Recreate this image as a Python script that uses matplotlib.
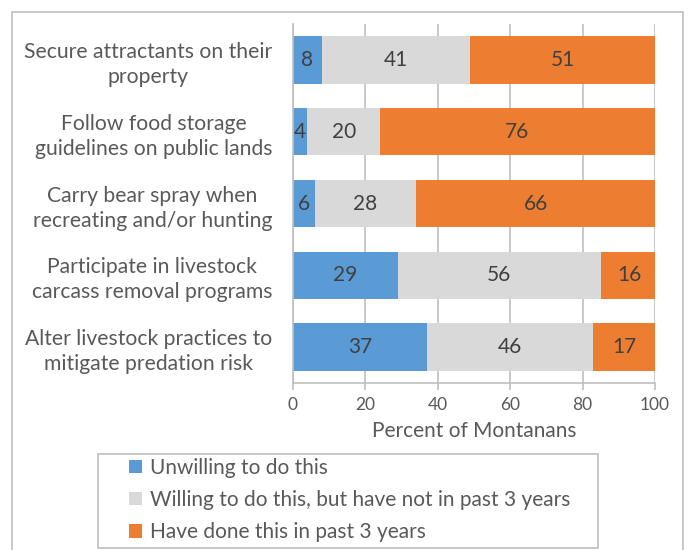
import numpy as np
import matplotlib.pyplot as plt
from matplotlib.patches import Rectangle

plt.rcParams['font.family'] = ['Lato', 'DejaVu Sans']

actions = ["Secure attractants on their\nproperty",
           "Follow food storage\nguidelines on public lands",
           "Carry bear spray when\nrecreating and/or hunting",
           "Participate in livestock\ncarcass removal programs",
           "Alter livestock practices to\nmitigate predation risk"]

unwilling = [8, 4, 6, 29, 37]
willing_not = [41, 20, 28, 56, 46]
have_done = [51, 76, 66, 16, 17]

series_names = ["Unwilling to do this",
                "Willing to do this, but have not in past 3 years",
                "Have done this in past 3 years"]
colors = ["#5B9BD5", "#D9D9D9", "#ED7D31"]

text_gray = "#595959"
grid_gray = "#BFBFBF"

fig = plt.figure(figsize=(6.88, 5.5), dpi=100)
ax = fig.add_axes([293/688, 1 - 383/550, (655 - 293)/688, (383 - 24)/550])

y = np.arange(len(actions))
left = np.zeros(len(actions))
for vals, name, col in zip([unwilling, willing_not, have_done], series_names, colors):
    bars = ax.barh(y, vals, left=left, height=0.66, color=col, label=name, zorder=2)
    for b, v in zip(bars, vals):
        ax.text(b.get_x() + b.get_width() / 2, b.get_y() + b.get_height() / 2, str(v),
                ha="center", va="center", fontsize=15, color="#404040", zorder=3)
    left += np.array(vals)

ax.set_xlim(0, 100)
ax.set_ylim(len(actions) - 0.5, -0.5)
ax.set_xticks(np.arange(0, 101, 20))
ax.set_yticks(y)
ax.set_yticklabels(actions, fontsize=15.2, color=text_gray, multialignment="center",
                   linespacing=1.32)
ax.tick_params(axis="y", length=0, pad=15)
ax.tick_params(axis="x", length=5, width=1.2, color=grid_gray, labelsize=12.5,
               labelcolor=text_gray, pad=5)
ax.xaxis.grid(True, color=grid_gray, linewidth=1.2, zorder=0)
ax.set_axisbelow(True)
for s in ["top", "right"]:
    ax.spines[s].set_visible(False)
for s in ["left", "bottom"]:
    ax.spines[s].set_color(grid_gray)
    ax.spines[s].set_linewidth(1.2)
ax.set_xlabel("Percent of Montanans", fontsize=15, color=text_gray, labelpad=6)

# outer chart frame and legend box
fig.patches.append(Rectangle((12/688, -0.02), (683 - 12)/688, 1.02 - 12/550,
                             transform=fig.transFigure, fill=False,
                             edgecolor=grid_gray, linewidth=1.2))
fig.patches.append(Rectangle((98/688, 1 - 548/550), 500/688, 94/550,
                             transform=fig.transFigure, fill=False,
                             edgecolor=grid_gray, linewidth=1.2))

fig.legend(loc="upper left", bbox_to_anchor=(127/688, 1 - 456/550), frameon=False,
           fontsize=15, labelcolor=text_gray, handlelength=0.6, handleheight=0.6,
           handletextpad=0.4, labelspacing=0.58, borderaxespad=0, borderpad=0.1)

fig.savefig("out.png", dpi=100)
